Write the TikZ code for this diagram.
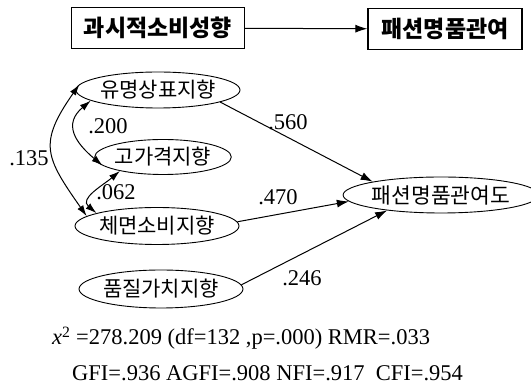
\documentclass[tikz,border=0pt]{standalone}
\usepackage{fontspec}
\setmainfont{Liberation Serif}
\newfontfamily\kr{Noto Sans CJK KR}
\usetikzlibrary{shapes,
                arrows.meta,
                positioning}
\tikzset{construct/.style=
   {rectangle,
    draw,
    line width=1.3pt,
    text centered,
    minimum height=41pt,
    font=\kr\bfseries\fontsize{23}{23}\selectfont}}
\tikzset{factor/.style =
   {ellipse,
    draw,
    line width=0.9pt,
    inner sep=0pt,
    minimum width=131pt,
    minimum height=36pt,
    font=\kr\fontsize{21}{21}\selectfont}}
\tikzset{coef/.style = {inner sep=0pt, font=\fontsize{22.5}{22.5}\selectfont}}
\tikzset{arrow/.style = {draw, line width=1pt, -{Latex[length=12pt,width=8pt]}}}
\tikzset{covar/.style = {draw, line width=1pt, {Latex[length=11pt,width=7pt]}-{Latex[length=11pt,width=7pt]}}}

\begin{document}
\begin{tikzpicture}[x=1pt, y=1pt]

    \useasboundingbox (0,0) rectangle (531,388);

    % top row: overall model
    \node [construct,
           minimum width=173pt] (conspic) at (158,360) {과시적소비성향};
    \node [construct,
           minimum width=154pt] (involve) at (445,359) {패션명품관여};
    \path [arrow] (conspic) -- (involve);

    % sub-factors
    \node [factor] (brand) at (158,298) {유명상표지향};
    \node [factor,
           minimum width=128pt,
           minimum height=35pt] (price) at (163,231) {고가격지향};
    \node [factor,
           minimum height=37pt] (face) at (157,162) {체면소비지향};
    \node [factor,
           minimum width=142pt,
           minimum height=38pt] (quality) at (161,99) {품질가치지향};

    \node [factor,
           minimum width=157pt,
           font=\kr\fontsize{21.5}{21.5}\selectfont] (degree) at (441,193) {패션명품관여도};

    % paths
    \path [arrow] (brand.-11) -- (degree.169);
    \path [arrow] (face.3) -- (degree.184);
    \path [arrow] (quality.3) -- (degree.196);

    \node [coef] (c560) at (288,266) {.560};
    \node [coef] (c470) at (278,191) {.470};
    \node [coef] (c246) at (302,110) {.246};

    % correlations
    \path [covar] (brand.176) to [out=235, in=125, looseness=1.4] (face.172);
    \path [covar] (brand.189) to [out=220, in=140, looseness=1.4] (price.188);
    \path [covar] (price.198) to [out=220, in=140, looseness=1.2] (face.168);

    \node [coef] (c200) at (108,262) {.200};
    \node [coef] (c062) at (116,196) {.062};
    \node [coef] (c135) at (29,230) {.135};

    % fit indices
    \node [coef, anchor=west] (fit1) at (52,50)
        {\textit{x}\textsuperscript{2} =278.209 (df=132 ,p=.000) RMR=.033};
    \node [coef, anchor=west] (fit2) at (72,15)
        {GFI=.936 AGFI=.908 NFI=.917 \ CFI=.954};

\end{tikzpicture}
\end{document}
